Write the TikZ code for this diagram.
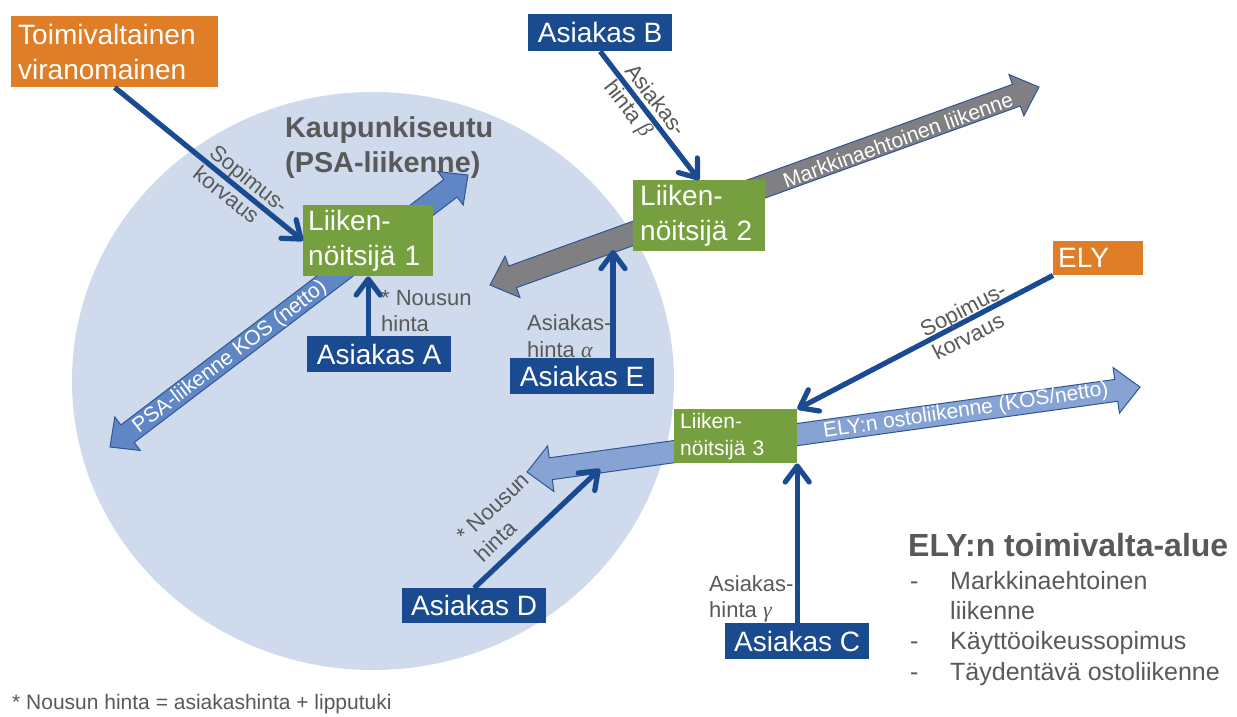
\documentclass[tikz,border=0pt]{standalone}
\usepackage{fontspec}
\setmainfont{Liberation Sans}
\newfontfamily\grk{Liberation Serif}
\usetikzlibrary{arrows.meta,calc}
\definecolor{orangebox}{HTML}{E07E27}
\definecolor{greenbox}{HTML}{76A03F}
\definecolor{dkblue}{HTML}{1A4A90}
\definecolor{labgray}{HTML}{595959}
\definecolor{circfill}{HTML}{CFDBEC}
\definecolor{psafill}{HTML}{5F87C6}
\definecolor{elyfill}{HTML}{87A3D3}
\definecolor{grayfill}{HTML}{808083}
\definecolor{arrline}{HTML}{2F5597}
\newcommand{\bigdarrow}[8]{%
\begin{scope}[shift={(#2,#3)},rotate=#4]
\filldraw[#1] (0,0) -- (#6,#7) -- (#6,#8) -- ({#5-#6},#8) -- ({#5-#6},#7) -- (#5,0)
  -- ({#5-#6},-#7) -- ({#5-#6},-#8) -- (#6,-#8) -- (#6,-#7) -- cycle;
\end{scope}}
\begin{document}
\begin{tikzpicture}[x=1pt,y=-1pt,
  box/.style={inner sep=0pt, text=white, font=\fontsize{28}{35}\selectfont, anchor=north west},
  obox/.style={box, fill=orangebox},
  gbox/.style={box, fill=greenbox, align=left},
  bbox/.style={box, fill=dkblue, minimum width=144pt, minimum height=36pt, align=center},
  conn/.style={draw=dkblue, line width=5.2pt, -{Straight Barb[length=16pt,width=24pt,round]}},
  lab/.style={text=labgray, font=\fontsize{22}{26.5}\selectfont, inner sep=0pt, align=left},
  arrtext/.style={text=white, font=\fontsize{21}{25}\selectfont, inner sep=0pt},
  ttl/.style={text=labgray, inner sep=0pt, anchor=base west},
  leg/.style={text=labgray, font=\fontsize{25}{30}\selectfont, inner sep=0pt, anchor=base west},
  psa/.style={fill=psafill, draw=arrline, line width=1pt},
  gra/.style={fill=grayfill, draw=arrline, line width=1pt},
  elyA/.style={fill=elyfill, draw=arrline, line width=1pt}]
\useasboundingbox (0,0) rectangle (1237,716);
\fill[white] (0,0) rectangle (1237,716);
% city region
\fill[circfill] (373,381) ellipse[x radius=301, y radius=289];
% big arrows
\bigdarrow{psa}{110}{447}{37.23}{449.6}{22}{21}{11}
\bigdarrow{gra}{490}{285}{19.83}{583.6}{24}{22}{11.5}
\bigdarrow{elyA}{527}{472}{7.89}{618.9}{24}{23}{11}
\node[arrtext, rotate=37.23] (tpsa) at (230,357) {PSA-liikenne KOS (netto)};
\node[arrtext, rotate=19.83] (tmark) at (898,140) {Markkinaehtoinen liikenne};
\node[arrtext, rotate=8.5] (tely) at (966,411) {ELY:n ostoliikenne (KOS/netto)};
% title of the region
\node[ttl, font=\bfseries\fontsize{28.8}{34}\selectfont] (k1) at (285,137) {Kaupunkiseutu};
\node[ttl, font=\bfseries\fontsize{28.8}{34}\selectfont] (k2) at (285,172) {(PSA-liikenne)};
% boxes
\node[obox, align=left, inner xsep=7pt, text width=193pt, minimum height=71pt] (toimi) at (11,16) {Toimivaltainen\\viranomainen};
\node[gbox, inner xsep=5pt, text width=120pt, minimum height=71pt] (liik1) at (303,205) {Liiken-\\nöitsijä 1};
\node[gbox, inner xsep=7pt, text width=118pt, minimum height=71pt] (liik2) at (633,180) {Liiken-\\nöitsijä 2};
\node[gbox, inner xsep=6pt, text width=111pt, minimum height=54pt, font=\fontsize{21}{27}\selectfont] (liik3) at (674,409) {Liiken-\\nöitsijä 3};
\node[obox, align=left, inner xsep=5pt, text width=80pt, minimum height=34pt] (ely) at (1053,241) {ELY};
\node[bbox, minimum height=37pt] (asB) at (528,14) {Asiakas B};
\node[bbox] (asA) at (307,336) {Asiakas A};
\node[bbox] (asE) at (510,358) {Asiakas E};
\node[bbox, minimum height=35pt] (asD) at (402,588) {Asiakas D};
\node[bbox] (asC) at (725,623) {Asiakas C};
% connectors
\coordinate (eTip) at (613,250);
\coordinate (dTip) at (600,469);
\draw[conn] (toimi.south) -- (liik1.west);
\draw[conn] (asB.south) -- (liik2.north);
\draw[conn] (asA.north -| liik1.south) -- (liik1.south);
\draw[conn] (asE.north -| eTip) -- (eTip);
\draw[conn] (ely.south west) -- (liik3.north east);
\draw[conn] (asD.north) -- (dTip);
\draw[conn] (asC.north) -- (asC.north |- liik3.south);
% labels
\node[lab, rotate=-38.6] (l1) at (241,189) {Sopimus-\\korvaus};
\node[lab, rotate=-52.2] (l2) at (644,109) {Asiakas-\\hinta {\grk\itshape β}};
\node[lab, rotate=27.1] (l3) at (969,321) {Sopimus-\\korvaus};
\node[lab, rotate=43.4] (l4) at (502,517) {* Nousun\\hinta};
\node[lab, anchor=west] (l5) at (381,311) {* Nousun\\hinta};
\node[lab, anchor=west] (l6) at (527,336) {Asiakas-\\hinta {\grk\itshape α}};
\node[lab, anchor=west] (l7) at (709,599) {Asiakas-\\hinta {\grk\itshape γ}};
% legend
\node[ttl, font=\bfseries\fontsize{32}{36}\selectfont] (legt) at (908,556) {ELY:n toimivalta-alue};
\node[leg] (d1) at (910,589) {-};
\node[leg] (i1) at (950,589) {Markkinaehtoinen};
\node[leg] (i1b) at (950,619) {liikenne};
\node[leg] (d2) at (910,649) {-};
\node[leg] (i2) at (950,649) {Käyttöoikeussopimus};
\node[leg] (d3) at (910,680) {-};
\node[leg] (i3) at (950,680) {Täydentävä ostoliikenne};
% footnote
\node[ttl, font=\fontsize{21}{25}\selectfont] (fn) at (12,709) {* Nousun hinta = asiakashinta + lipputuki};
\end{tikzpicture}
\end{document}
